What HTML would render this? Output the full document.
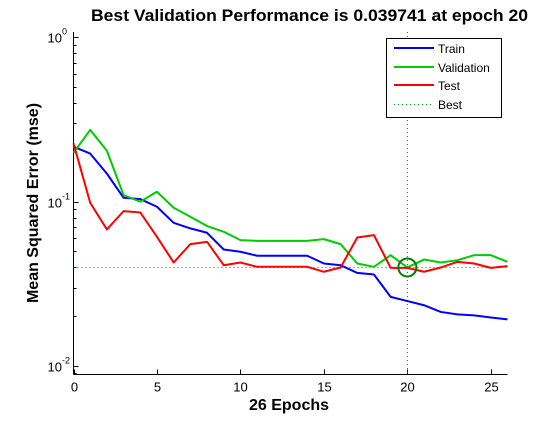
<!DOCTYPE html>
<html><head><meta charset="utf-8"><style>
body{margin:0;background:#fff;}
svg text{font-family:"Liberation Sans",Arial,sans-serif;}
</style></head><body>
<svg id="chart" width="560" height="420" viewBox="0 0 560 420" xmlns="http://www.w3.org/2000/svg">
<rect x="0" y="0" width="560" height="420" fill="#fff"/>
<text x="91" y="21" font-size="16.5" font-weight="bold" textLength="437" lengthAdjust="spacingAndGlyphs">Best Validation Performance is 0.039741 at epoch 20</text>
<text x="289" y="410" text-anchor="middle" font-size="16" font-weight="bold">26 Epochs</text>
<text transform="translate(38,203) rotate(-90)" text-anchor="middle" font-size="16" font-weight="bold">Mean Squared Error  (mse)</text>
<g id="axes"></g>
<g id="series"></g>
<g id="legend">
<rect x="386.5" y="38.5" width="115" height="79" fill="#fff" stroke="#000" stroke-width="1"/>
<line x1="394" y1="48" x2="434" y2="48" stroke="#0000ff" stroke-width="2"/>
<text x="438" y="53" font-size="12">Train</text>
<line x1="394" y1="67" x2="434" y2="67" stroke="#00cc00" stroke-width="2"/>
<text x="438" y="72" font-size="12">Validation</text>
<line x1="394" y1="85" x2="434" y2="85" stroke="#ff0000" stroke-width="2"/>
<text x="438" y="90" font-size="12">Test</text>
<line x1="394" y1="104.5" x2="434" y2="104.5" stroke="#009900" stroke-width="1" stroke-dasharray="1,3" shape-rendering="crispEdges"/>
<text x="438" y="109" font-size="12">Best</text>
</g>
</svg>
<script>
const epochs=[0,1,2,3,4,5,6,7,8,9,10,11,12,13,14,15,16,17,18,19,20,21,22,23,24,25,26];
const trainVals=[0.216,0.196,0.148,0.1055,0.1036,0.093,0.0743,0.0687,0.0646,0.0511,0.0495,0.0468,0.0468,0.0468,0.0468,0.042,0.041,0.0368,0.036,0.0263,0.0248,0.0234,0.0213,0.0206,0.0203,0.0197,0.0192];
const valVals=[0.198,0.273,0.204,0.1096,0.0998,0.1148,0.0917,0.0809,0.071,0.0655,0.0583,0.0577,0.0577,0.0577,0.0577,0.0591,0.0551,0.042,0.0401,0.0472,0.039741,0.0444,0.0426,0.044,0.0472,0.0472,0.043];
const testVals=[0.226,0.0984,0.0677,0.0875,0.0859,0.061,0.0426,0.0551,0.0569,0.041,0.0426,0.0401,0.0401,0.0401,0.0401,0.0374,0.0397,0.0605,0.0625,0.0395,0.0395,0.0374,0.0397,0.043,0.042,0.0395,0.0405];
const bestEpoch=20;
const bestVal=0.039741;
const xTicks=[0,5,10,15,20,25];
const yDecades=[0,-1,-2];

const NS="http://www.w3.org/2000/svg";
const L=73.5,R=507.5,T=32,B=374.5;
const xMin=0,xMax=26;
function X(v){return L+(v-xMin)/(xMax-xMin)*(R-L);}
function Y(v){return 37.3-Math.log10(v)*164.3;}
function mk(tag,attrs,parent){const e=document.createElementNS(NS,tag);for(const k in attrs)e.setAttribute(k,attrs[k]);parent.appendChild(e);return e;}
const ax=document.getElementById('axes');
const ya=mk('line',{x1:L,y1:T,x2:L,y2:B,stroke:'#000','stroke-width':1},ax);


const xa=mk('line',{x1:L,y1:B,x2:R,y2:B,stroke:'#000','stroke-width':1},ax);


xTicks.forEach(t=>{
  const x=Math.round(X(t))+0.5;
  mk('line',{x1:x,y1:B,x2:x,y2:B-5,stroke:'#000'},ax);
  const tx=mk('text',{x:x,y:B+17,'text-anchor':'middle','font-size':13},ax);
  tx.textContent=t;
  
  
});
yDecades.forEach(d=>{
  const y=Math.round(Y(Math.pow(10,d)))+0.5;
  mk('line',{x1:L,y1:y,x2:L+5,y2:y,stroke:'#000'},ax);
  const tx=mk('text',{x:L-26,y:y+5,'text-anchor':'start','font-size':13},ax);
  tx.textContent='10';
  
  
  const sp=mk('text',{x:L-11.5,y:y-3,'text-anchor':'start','font-size':9},ax);
  sp.textContent=d;
  for(let m=2;m<=9;m++){
    const v=Math.pow(10,d-1)*m;const yy=Math.round(Y(v))+0.5;
    if(yy<=B&&yy>=T){mk('line',{x1:L,y1:yy,x2:L+3,y2:yy,stroke:'#000'},ax);}
  }
});
const sg=document.getElementById('series');
const bxp=Math.round(X(bestEpoch))+0.5, byp=Math.round(Y(bestVal))+0.5;
const bx=mk('line',{x1:bxp,y1:T,x2:bxp,y2:B,stroke:'#009900','stroke-width':1,'stroke-dasharray':'1,3','shape-rendering':'crispEdges'},sg);


const by=mk('line',{x1:L,y1:byp,x2:R,y2:byp,stroke:'#009900','stroke-width':1,'stroke-dasharray':'1,3','shape-rendering':'crispEdges'},sg);


function line(vals,color,name){
  const p=mk('polyline',{points:epochs.map((e,i)=>X(e)+','+Y(vals[i])).join(' '),fill:'none',stroke:color,'stroke-width':2,'stroke-linejoin':'round'},sg);
  
  
}
line(trainVals,'#0000ff','train-line');
line(valVals,'#00cc00','validation-line');
line(testVals,'#ff0000','test-line');
const c=mk('circle',{cx:X(bestEpoch),cy:Y(bestVal),r:9,fill:'none',stroke:'#008000','stroke-width':2},sg);


</script>
</body></html>
